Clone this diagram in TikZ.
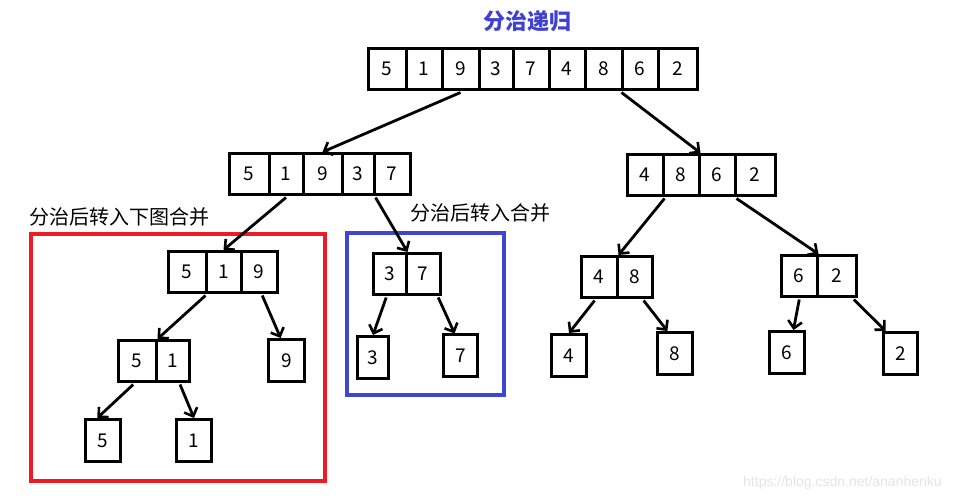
\documentclass[tikz,border=0pt]{standalone}
\usepackage{fontspec}
\newfontfamily\cjk{Noto Sans CJK SC}
\newfontfamily\wmfont{Liberation Sans}
\usetikzlibrary{arrows.meta,calc}
\definecolor{boxred}{RGB}{237,28,36}
\definecolor{boxblue}{RGB}{63,72,204}
\definecolor{titleblue}{RGB}{64,64,210}
\tikzset{
  cell/.style={draw, line width=3pt, inner sep=0pt, minimum height=41pt,
    font=\cjk\fontsize{19}{19}\selectfont},
  single/.style={cell, minimum height=42pt},
  arr/.style={line width=2.8pt, -{Straight Barb[length=7pt,width=14pt,line width=2.6pt]}},
  frame/.style={line width=4pt},
  lbl/.style={anchor=west, inner sep=0pt, font=\cjk\fontsize{20}{20}\selectfont}
}
\begin{document}
\begin{tikzpicture}[x=1pt,y=-1pt]
\useasboundingbox[fill=white] (0,0) rectangle (975,502);
% title
\node[font=\cjk\bfseries\fontsize{22}{22}\selectfont, text=titleblue, inner sep=0pt] (title) at (527,21) {分治递归};
% top array
\node[cell, minimum width=37.5pt] (c1) at (387.25,69) {5};
\node[cell, minimum width=36pt] (c2) at (424,69) {1};
\node[cell, minimum width=37pt] (c3) at (460.5,69) {9};
\node[cell, minimum width=34pt] (c4) at (496,69) {3};
\node[cell, minimum width=36pt] (c5) at (531,69) {7};
\node[cell, minimum width=36pt] (c6) at (567,69) {4};
\node[cell, minimum width=37pt] (c7) at (603.5,69) {8};
\node[cell, minimum width=36pt] (c8) at (640,69) {6};
\node[cell, minimum width=39.5pt] (c9) at (677.75,69) {2};
% level 2 left
\node[cell, minimum width=39.5pt] (L1) at (249.25,174) {5};
\node[cell, minimum width=34pt] (L2) at (286,174) {1};
\node[cell, minimum width=39pt] (L3) at (322.5,174) {9};
\node[cell, minimum width=32pt] (L4) at (358,174) {3};
\node[cell, minimum width=36.5pt] (L5) at (392.25,174) {7};
% level 2 right
\node[cell, minimum width=35.5pt] (R1) at (645.25,175) {4};
\node[cell, minimum width=36pt] (R2) at (681,175) {8};
\node[cell, minimum width=36pt] (R3) at (717,175) {6};
\node[cell, minimum width=40.5pt] (R4) at (755.25,175) {2};
% 5 1 9
\node[cell, minimum width=37.5pt] (A1) at (187.25,272) {5};
\node[cell, minimum width=35pt] (A2) at (223.5,272) {1};
\node[cell, minimum width=36.5pt] (A3) at (259.25,272) {9};
% 5 1
\node[cell, minimum width=37.5pt] (D1) at (137.25,361) {5};
\node[cell, minimum width=33.5pt] (D2) at (172.75,361) {1};
% singles left
\node[single, minimum width=36pt] (n9) at (286.5,360.5) {9};
\node[single, minimum width=35pt] (s5) at (103,440.5) {5};
\node[single, minimum width=35pt] (s1) at (194,440.5) {1};
% 3 7
\node[cell, minimum width=32.5pt] (B1) at (389.75,274) {3};
\node[cell, minimum width=34.5pt] (B2) at (423.25,274) {7};
\node[single, minimum width=31pt] (s3) at (373,357.5) {3};
\node[single, minimum width=34pt] (s7) at (460.5,356) {7};
% 4 8 and 6 2
\node[cell, minimum width=35.5pt] (F1) at (599.25,277) {4};
\node[cell, minimum width=35.5pt] (F2) at (634.75,277) {8};
\node[cell, minimum width=35.5pt] (G1) at (799.25,276) {6};
\node[cell, minimum width=39.5pt] (G2) at (836.75,276) {2};
\node[single, minimum width=35pt] (s4) at (569,355.5) {4};
\node[single, minimum width=35pt] (s8) at (675,353.5) {8};
\node[single, minimum width=35pt] (s6) at (787,352.5) {6};
\node[single, minimum width=34pt] (s2) at (900.5,353.5) {2};
% frames
\draw[frame, boxred] (31,234) rectangle (325,481);
\draw[frame, boxblue] (347,233) rectangle (504,395);
% labels
\node[lbl] (lab1) at (29,217) {分治后转入下图合并};
\node[lbl] (lab2) at (410,213) {分治后转入合并};
% arrows
\draw[arr] ($(c3.south)+(0,1.5)$) -- (L3.north);
\draw[arr] ($(c7.south east)+(-2,1.5)$) -- (R2.north east);
\draw[arr] ($(L2.south)+(0,1.5)$) -- (A2.north);
\draw[arr] ($(L4.south east)+(0,1.5)$) -- (B1.north east);
\draw[arr] ($(A1.south east)+(-2,1.5)$) -- (D1.north east);
\draw[arr] ($(A3.south)+(3,1.5)$) -- ($(n9.north west)!0.35!(n9.north east)$);
\draw[arr] ($(D1.south west)!0.4!(D1.south east)+(0,1.5)$) -- ($(s5.north west)!0.35!(s5.north east)$);
\draw[arr] ($(D2.south west)!0.7!(D2.south east)+(0,1.5)$) -- (s1.north);
\draw[arr] ($(B1.south west)!0.4!(B1.south east)+(0,1.5)$) -- (s3.north);
\draw[arr] ($(B2.south west)!0.9!(B2.south east)+(0,1.5)$) -- ($(s7.north west)!0.34!(s7.north east)$);
\draw[arr] ($(R1.south east)+(0,1.5)$) -- (F1.north east);
\draw[arr] ($(R3.south east)+(0,1.5)$) -- (G1.north east);
\draw[arr] ($(F1.south west)!0.38!(F1.south east)+(0,1.5)$) -- (s4.north);
\draw[arr] ($(F2.south west)!0.73!(F2.south east)+(0,1.5)$) -- ($(s8.north west)!0.3!(s8.north east)$);
\draw[arr] ($(G1.south)+(0,1.5)$) -- ($(s6.north west)!0.67!(s6.north east)$);
\draw[arr] ($(G2.south west)!0.9!(G2.south east)+(0,1.5)$) -- ($(s2.north west)!0.1!(s2.north east)$);
% watermark
\node[anchor=west, inner sep=0pt, text=black!10, font=\wmfont\fontsize{14}{14}\selectfont] (wm) at (743,483) {https://blog.csdn.net/ananhenku};
\end{tikzpicture}
\end{document}
